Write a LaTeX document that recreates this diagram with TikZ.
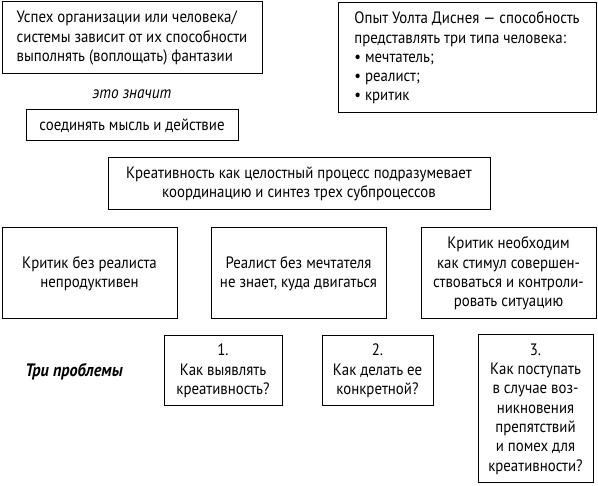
\documentclass[tikz,border=0pt]{standalone}
\usepackage{fontspec}
\setmainfont[FakeStretch=0.9]{PT Sans}
\begin{document}
\begin{tikzpicture}[x=1pt,y=1pt]
\tikzstyle{every node}+=[inner sep=0pt,font=\fontsize{16.5}{19.3}\selectfont]
\tikzstyle{box}=[draw=black,line width=1pt,align=center]
\tikzstyle{lbox}=[box,align=left]

\useasboundingbox (0,0) rectangle (598,-486);
\node [lbox,minimum width=260,minimum height=72] (success) at (132,-38)
  {Успех организации или человека/\\системы зависит от их способности\\выполнять (воплощать) фантазии};
\node [font=\fontsize{17}{19.3}\selectfont\itshape] (means) at (132,-94) {это значит};
\node [box,minimum width=212,minimum height=31] (join) at (132,-125.5)
  {соединять мысль и действие};
\node [lbox,minimum width=258,minimum height=110] (disney) at (467,-58)
  {Опыт Уолта Диснея — способность\\представлять три типа человека:\\• мечтатель;\\• реалист;\\• критик};
\node [box,minimum width=382,minimum height=52] (whole) at (299,-184)
  {Креативность как целостный процесс подразумевает\\координацию и синтез трех субпроцессов};

\node [box,minimum width=175,minimum height=91] (critic) at (89.5,-273.5)
  {Критик без реалиста\\непродуктивен};
\node [box,minimum width=175,minimum height=91] (realist) at (298.5,-273.5)
  {Реалист без мечтателя\\не знает, куда двигаться};
\node [box,minimum width=175,minimum height=91] (stimul) at (508.5,-273.5)
  {Критик необходим\\как стимул совершен-\\ствоваться и контроли-\\ровать ситуацию};

\node [font=\fontsize{18}{19.3}\selectfont\bfseries\itshape] (three) at (74,-372) {Три проблемы};
\node [box,minimum width=118,minimum height=70] (prob1) at (223,-371)
  {1.\\Как выявлять\\креативность?};
\node [box,minimum width=111,minimum height=70] (prob2) at (377.5,-371)
  {2.\\Как делать ее\\конкретной?};
\node [box,minimum width=115,minimum height=148] (prob3) at (535.5,-409)
  {3.\\Как поступать\\в случае воз-\\никновения\\препятствий\\и помех для\\креативности?};
\end{tikzpicture}
\end{document}
